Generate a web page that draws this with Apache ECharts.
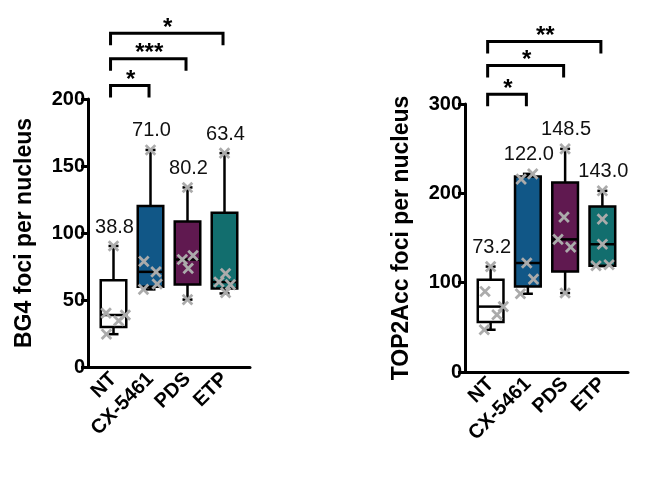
<!DOCTYPE html>
<html><head><meta charset="utf-8">
<script src="https://cdn.jsdelivr.net/npm/echarts@6/dist/echarts.min.js"></script>
<style>html,body{margin:0;padding:0;background:#fff}#c{width:656px;height:481px}</style>
</head><body><div id="c"></div>
<script>
// ---------- DATA ----------
const categories = ['NT', 'CX-5461', 'PDS', 'ETP'];

// BG4 foci per nucleus: box stats [min, q1, median, q3, max]
const bg4Box = [
  [24.5, 29.9, 38.8, 64.8, 90.3],
  [57.9, 59.8, 71.0, 120.2, 162.0],
  [50.3, 61.6, 80.2, 108.5, 134.0],
  [54.9, 58.6, 63.4, 115.2, 159.6]
];
// individual points per group: [jitter, value]
const bg4Points = [
  [[0, 90.3], [-0.2, 40.2], [0.32, 38.8], [0.14, 34.5], [-0.19, 24.5]],
  [[0, 162.0], [-0.18, 78.8], [0.15, 71.0], [0.18, 61.9], [-0.19, 57.9]],
  [[0, 134.0], [0.15, 83.2], [-0.14, 80.2], [0.02, 73.6], [0, 50.3]],
  [[0, 159.6], [0.03, 69.8], [-0.15, 63.4], [0.16, 61.5], [0.03, 55.5]]
];
const bg4Labels = ['38.8', '71.0', '80.2', '63.4'];
const bg4Sig = [[0, 1, '*'], [0, 2, '***'], [0, 3, '*']];
const bg4Ticks = [0, 50, 100, 150, 200];

// TOP2Acc foci per nucleus
const topBox = [
  [47.3, 55.9, 73.2, 103.2, 118.0],
  [87.6, 95.8, 122.0, 218.9, 221.8],
  [88.4, 112.5, 148.5, 212.1, 249.8],
  [118.5, 119.0, 143.0, 185.3, 202.8]
];
const topPoints = [
  [[0, 118.0], [-0.15, 90.2], [0.34, 73.2], [0.17, 64.1], [-0.17, 47.3]],
  [[0.13, 221.8], [-0.18, 215.9], [-0.03, 122.0], [0.15, 104.0], [-0.2, 87.6]],
  [[0, 249.8], [-0.03, 173.4], [-0.19, 148.5], [0.15, 139.8], [0, 88.4]],
  [[0, 202.8], [0, 171.1], [0, 143.0], [-0.17, 118.9], [0.18, 120.0]]
];
const topLabels = ['73.2', '122.0', '148.5', '143.0'];
const topSig = [[0, 1, '*'], [0, 2, '*'], [0, 3, '**']];
const topTicks = [0, 100, 200, 300];

// ---------- STYLE / LAYOUT ----------
const boxColors = ['#ffffff', '#115787', '#601950', '#126e6e'];
const FONT = '"Liberation Sans", Arial, Helvetica, sans-serif';
const panels = [
  { name: 'BG4 foci per nucleus', box: bg4Box, pts: bg4Points, labels: bg4Labels, sig: bg4Sig,
    ticks: bg4Ticks, frame: {left: 88, top: 99, width: 162, height: 268},
    data: {left: 95, top: 99, width: 148, height: 268}, sigLevels: [210, 230, 249] },
  { name: 'TOP2Acc foci per nucleus', box: topBox, pts: topPoints, labels: topLabels, sig: topSig,
    ticks: topTicks, frame: {left: 465, top: 104, width: 163, height: 268},
    data: {left: 472, top: 104, width: 149, height: 268}, sigLevels: [311, 343, 370] }
];

const grid = [], xAxis = [], yAxis = [], series = [];

panels.forEach((p, k) => {
  const gFrame = grid.length; grid.push(p.frame);
  const gData = grid.length; grid.push(p.data);
  const yMin = p.ticks[0], yMax = p.ticks[p.ticks.length - 1];
  const step = p.ticks[1] - p.ticks[0];

  const xFrame = xAxis.length;
  xAxis.push({ gridIndex: gFrame, type: 'value', min: 0, max: 1,
    axisLine: {show: true, onZero: false, lineStyle: {color: '#000', width: 3}},
    axisTick: {show: false}, axisLabel: {show: false}, splitLine: {show: false} });
  const xCat = xAxis.length;
  xAxis.push({ gridIndex: gData, type: 'category', data: categories, boundaryGap: true,
    axisLine: {show: false}, axisTick: {show: false}, splitLine: {show: false},
    axisLabel: {rotate: 45, interval: 0, margin: 9, fontSize: 20, fontWeight: 'bold',
      color: '#000', fontFamily: FONT} });
  const xVal = xAxis.length;
  xAxis.push({ gridIndex: gData, type: 'value', min: -0.5, max: 3.5, show: false,
    splitLine: {show: false} });

  const yFrame = yAxis.length;
  yAxis.push({ gridIndex: gFrame, type: 'value', min: yMin, max: yMax, interval: step,
    name: p.name, nameLocation: 'middle', nameGap: 52,
    nameTextStyle: {fontSize: 23, fontWeight: 'bold', color: '#000', fontFamily: FONT},
    axisLine: {show: true, lineStyle: {color: '#000', width: 3}},
    axisTick: {show: true, length: 7, lineStyle: {color: '#000', width: 3}},
    axisLabel: {fontSize: 20, fontWeight: 'bold', color: '#000', margin: 3, fontFamily: FONT},
    splitLine: {show: false} });
  const yData = yAxis.length;
  yAxis.push({ gridIndex: gData, type: 'value', min: yMin, max: yMax, show: false,
    splitLine: {show: false} });

  series.push({ type: 'line', xAxisIndex: xFrame, yAxisIndex: yFrame, data: [], silent: true });

  // boxes
  series.push({
    type: 'custom', xAxisIndex: xCat, yAxisIndex: yData, clip: false, z: 2,
    data: p.box.map((b, i) => [i].concat(b)),
    encode: {x: 0, y: [1, 2, 3, 4, 5]},
    renderItem: function (params, api) {
      const i = api.value(0);
      const mn = api.coord([i, api.value(1)]);
      const q1 = api.coord([i, api.value(2)]);
      const md = api.coord([i, api.value(3)]);
      const q3 = api.coord([i, api.value(4)]);
      const mx = api.coord([i, api.value(5)]);
      const bw = api.size([1, 0])[0] * 0.69;
      const cw = 10;
      const x = mn[0];
      const ls = {stroke: '#000', lineWidth: 2.5};
      return { type: 'group', children: [
        {type: 'line', shape: {x1: x, y1: q3[1], x2: x, y2: mx[1]}, style: ls},
        {type: 'line', shape: {x1: x, y1: q1[1], x2: x, y2: mn[1]}, style: ls},
        {type: 'line', shape: {x1: x - cw / 2, y1: mx[1], x2: x + cw / 2, y2: mx[1]}, style: ls},
        {type: 'line', shape: {x1: x - cw / 2, y1: mn[1], x2: x + cw / 2, y2: mn[1]}, style: ls},
        {type: 'rect', shape: {x: x - bw / 2, y: q3[1], width: bw, height: q1[1] - q3[1]},
          style: {fill: boxColors[params.dataIndex], stroke: '#000', lineWidth: 2.5}},
        {type: 'line', shape: {x1: x - bw / 2, y1: md[1], x2: x + bw / 2, y2: md[1]}, style: ls}
      ]};
    }
  });

  // points (grey crosses)
  const ptData = [];
  p.pts.forEach((g, i) => g.forEach(pt => ptData.push([i + pt[0], pt[1]])));
  series.push({
    type: 'custom', xAxisIndex: xVal, yAxisIndex: yData, clip: false, z: 3,
    data: ptData, encode: {x: 0, y: 1},
    renderItem: function (params, api) {
      const c = api.coord([api.value(0), api.value(1)]);
      const h = 4.8;
      const st = {stroke: '#ababab', lineWidth: 2.8};
      return { type: 'group', children: [
        {type: 'line', shape: {x1: c[0] - h, y1: c[1] - h, x2: c[0] + h, y2: c[1] + h}, style: st},
        {type: 'line', shape: {x1: c[0] - h, y1: c[1] + h, x2: c[0] + h, y2: c[1] - h}, style: st}
      ]};
    }
  });

  // median labels above top whisker
  series.push({
    type: 'custom', xAxisIndex: xCat, yAxisIndex: yData, clip: false, z: 4,
    data: p.box.map((b, i) => [i, b[4]]),
    encode: {x: 0, y: 1},
    renderItem: function (params, api) {
      const c = api.coord([api.value(0), api.value(1)]);
      return {type: 'text', x: c[0] + 1, y: c[1] - 19,
        style: {text: p.labels[params.dataIndex], fill: '#111', fontSize: 20, fontFamily: FONT,
          align: 'center', verticalAlign: 'middle'}};
    }
  });

  // significance brackets
  series.push({
    type: 'custom', xAxisIndex: xVal, yAxisIndex: yData, clip: false, z: 4,
    data: p.sig.map((s, j) => [s[0] - 0.08, s[1] - 0.04, p.sigLevels[j]]),
    encode: {x: [0, 1], y: 2},
    renderItem: function (params, api) {
      const a = api.coord([api.value(0), api.value(2)]);
      const b = api.coord([api.value(1), api.value(2)]);
      const leg = 12;
      return { type: 'group', children: [
        {type: 'polyline', shape: {points: [[a[0], a[1] + leg], [a[0], a[1]], [b[0], b[1]], [b[0], b[1] + leg]]},
          style: {stroke: '#000', lineWidth: 3, fill: null}},
        {type: 'text', x: (a[0] + b[0]) / 2 + 1, y: a[1] - 5,
          style: {text: p.sig[params.dataIndex][2], fill: '#000', fontSize: 24, fontWeight: 'bold',
            fontFamily: FONT, align: 'center', verticalAlign: 'middle', letterSpacing: 3}}
      ]};
    }
  });
});

const chart = echarts.init(document.getElementById('c'), null, {renderer: 'canvas'});
chart.setOption({
  animation: false,
  backgroundColor: '#fff',
  textStyle: {fontFamily: FONT},
  grid: grid, xAxis: xAxis, yAxis: yAxis, series: series
});
</script>
</body></html>
